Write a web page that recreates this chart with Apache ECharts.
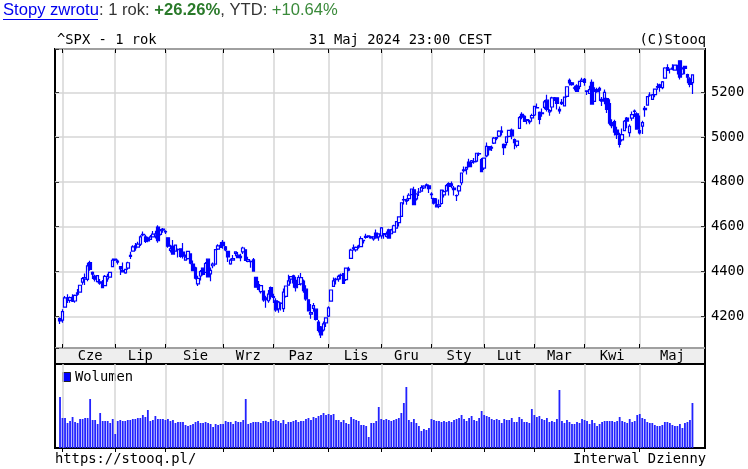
<!DOCTYPE html>
<html>
<head>
<meta charset="utf-8">
<script src="https://cdn.jsdelivr.net/npm/echarts@6/dist/echarts.min.js"></script>
<style>
  html, body { margin: 0; padding: 0; background: #fff; }
  #chart { width: 748px; height: 469px; }
</style>
</head>
<body>
<div id="chart"></div>
<script>
// ^SPX, dzienne swiece: [open, close, low, high]
const dMay23 = [31];
const pMay23 = [[4190.7, 4179.8, 4166.2, 4195.4]];
const vMay23 = [51];

const dJun23 = [1, 2, 5, 6, 7, 8, 9, 12, 13, 14, 15, 16, 20, 21, 22, 23, 26, 27, 28, 29, 30];
const pJun23 = [
  [4183.0, 4221.0, 4171.6, 4232.4], [4241.0, 4282.4, 4241.0, 4290.7], [4282.0, 4273.8, 4260.2, 4299.3],
  [4271.3, 4283.9, 4261.0, 4288.3], [4285.5, 4267.5, 4264.1, 4299.2], [4268.7, 4293.9, 4261.1, 4298.0],
  [4304.9, 4298.9, 4292.2, 4322.6], [4308.3, 4338.9, 4307.4, 4340.1], [4352.6, 4369.0, 4341.3, 4375.4],
  [4366.3, 4372.6, 4340.5, 4391.8], [4365.3, 4425.8, 4357.2, 4439.2], [4440.0, 4409.6, 4403.4, 4448.5],
  [4396.1, 4388.7, 4367.2, 4400.2], [4380.0, 4365.7, 4355.4, 4386.2], [4355.4, 4381.9, 4351.6, 4382.2],
  [4354.2, 4348.3, 4341.3, 4366.6], [4344.8, 4328.8, 4327.3, 4362.1], [4337.4, 4378.4, 4337.4, 4384.4],
  [4367.5, 4376.9, 4355.0, 4390.4], [4374.9, 4396.4, 4374.9, 4398.4], [4422.4, 4450.4, 4422.4, 4458.5]
];
const vJun23 = [30, 30, 25, 27, 31, 26, 25, 29, 29, 30, 30, 49, 28, 28, 24, 35, 27, 27, 27, 25, 29];

const dJul23 = [3, 5, 6, 7, 10, 11, 12, 13, 14, 17, 18, 19, 20, 21, 24, 25, 26, 27, 28, 31];
const pJul23 = [
  [4450.5, 4455.6, 4446.8, 4456.5], [4442.0, 4446.8, 4431.0, 4454.1], [4422.6, 4411.6, 4385.1, 4422.6],
  [4404.5, 4399.0, 4397.4, 4440.4], [4394.2, 4409.5, 4389.9, 4412.6], [4415.6, 4439.3, 4408.5, 4443.6],
  [4467.7, 4472.2, 4456.5, 4488.3], [4491.5, 4510.0, 4491.5, 4517.4], [4514.6, 4505.4, 4493.3, 4527.8],
  [4508.9, 4522.8, 4505.8, 4532.9], [4521.8, 4555.0, 4514.6, 4562.3], [4563.9, 4565.7, 4557.5, 4578.4],
  [4554.4, 4534.9, 4527.6, 4564.7], [4550.2, 4536.3, 4531.3, 4555.0], [4543.4, 4554.6, 4540.3, 4563.4],
  [4555.2, 4567.5, 4555.0, 4580.6], [4558.9, 4566.8, 4547.6, 4582.5], [4598.3, 4537.4, 4528.6, 4607.1],
  [4565.8, 4582.2, 4561.2, 4590.2], [4584.8, 4589.0, 4573.1, 4594.2]
];
const vJul23 = [14, 27, 28, 27, 27, 28, 28, 29, 29, 30, 30, 33, 31, 38, 27, 28, 32, 29, 29, 29];

const dAug23 = [1, 2, 3, 4, 7, 8, 9, 10, 11, 14, 15, 16, 17, 18, 21, 22, 23, 24, 25, 28, 29, 30, 31];
const pAug23 = [
  [4578.8, 4576.7, 4567.5, 4584.6], [4550.9, 4513.4, 4505.8, 4550.9], [4494.3, 4501.9, 4485.5, 4519.8],
  [4513.9, 4478.0, 4474.6, 4540.3], [4491.6, 4518.4, 4491.2, 4519.8], [4498.0, 4499.4, 4463.2, 4503.3],
  [4501.6, 4467.7, 4461.3, 4502.4], [4487.2, 4468.8, 4457.9, 4527.4], [4450.7, 4464.1, 4448.0, 4476.2],
  [4458.1, 4489.7, 4453.4, 4490.3], [4478.9, 4437.9, 4432.2, 4478.9], [4433.8, 4404.3, 4403.6, 4449.9],
  [4416.3, 4370.4, 4364.8, 4421.2], [4344.9, 4369.7, 4335.3, 4381.8], [4380.3, 4399.8, 4360.3, 4407.5],
  [4415.3, 4387.6, 4382.8, 4418.6], [4396.4, 4436.0, 4396.4, 4443.2], [4455.2, 4376.3, 4375.6, 4458.3],
  [4389.4, 4405.7, 4356.3, 4418.5], [4426.0, 4433.3, 4414.9, 4440.8], [4432.8, 4497.6, 4431.7, 4500.1],
  [4500.3, 4514.9, 4496.0, 4521.7], [4517.0, 4507.7, 4505.9, 4532.3]
];
const vAug23 = [28, 29, 27, 28, 25, 26, 26, 26, 23, 22, 23, 24, 26, 27, 25, 25, 26, 25, 24, 21, 24, 23, 24];

const dSep23 = [1, 5, 6, 7, 8, 11, 12, 13, 14, 15, 18, 19, 20, 21, 22, 25, 26, 27, 28, 29];
const pSep23 = [
  [4530.6, 4515.8, 4501.4, 4541.3], [4510.1, 4496.8, 4490.4, 4514.3], [4490.4, 4465.5, 4442.4, 4490.4],
  [4434.6, 4451.1, 4430.5, 4457.8], [4451.3, 4457.5, 4448.5, 4473.5], [4480.9, 4487.5, 4467.9, 4490.8],
  [4473.3, 4461.9, 4459.8, 4487.1], [4462.6, 4467.4, 4446.1, 4479.4], [4487.8, 4505.1, 4478.1, 4511.0],
  [4497.1, 4450.3, 4447.2, 4497.1], [4445.4, 4453.5, 4442.1, 4466.4], [4445.4, 4444.0, 4416.6, 4449.9],
  [4452.8, 4402.2, 4401.4, 4461.0], [4374.4, 4330.0, 4329.2, 4375.7], [4341.7, 4320.1, 4316.5, 4357.4],
  [4310.6, 4337.4, 4302.7, 4338.5], [4312.9, 4273.5, 4265.0, 4313.0], [4282.6, 4274.5, 4238.6, 4292.1],
  [4269.7, 4299.7, 4261.0, 4317.3], [4328.2, 4288.1, 4274.9, 4333.2]
];
const vSep23 = [24, 27, 26, 26, 24, 27, 26, 26, 28, 49, 24, 25, 26, 26, 26, 25, 27, 27, 26, 29];

const dOct23 = [2, 3, 4, 5, 6, 9, 10, 11, 12, 13, 16, 17, 18, 19, 20, 23, 24, 25, 26, 27, 30, 31];
const pOct23 = [
  [4284.5, 4288.4, 4260.0, 4300.6], [4269.8, 4229.5, 4220.5, 4281.2], [4233.8, 4263.8, 4216.5, 4268.5],
  [4259.3, 4258.2, 4225.9, 4263.6], [4234.8, 4308.5, 4219.4, 4324.1], [4289.0, 4335.7, 4283.8, 4335.9],
  [4339.8, 4358.2, 4339.8, 4385.5], [4366.6, 4377.0, 4345.3, 4378.6], [4380.9, 4349.6, 4328.1, 4385.9],
  [4360.5, 4327.8, 4311.6, 4377.1], [4342.4, 4373.6, 4342.4, 4383.3], [4345.2, 4373.2, 4337.5, 4393.6],
  [4357.4, 4314.6, 4305.2, 4364.2], [4321.4, 4278.0, 4269.7, 4339.5], [4273.9, 4224.2, 4223.0, 4276.6],
  [4210.4, 4217.0, 4189.2, 4255.8], [4235.8, 4247.7, 4220.5, 4259.4], [4232.4, 4186.8, 4181.4, 4232.4],
  [4175.1, 4137.2, 4128.0, 4183.6], [4152.9, 4117.4, 4103.8, 4156.7], [4139.4, 4166.8, 4132.9, 4177.5],
  [4171.3, 4193.8, 4153.1, 4195.6]
];
const vOct23 = [27, 28, 27, 25, 28, 24, 26, 26, 27, 28, 26, 27, 27, 29, 30, 28, 31, 30, 32, 33, 35, 33];

const dNov23 = [1, 2, 3, 6, 7, 8, 9, 10, 13, 14, 15, 16, 17, 20, 21, 22, 24, 27, 28, 29, 30];
const pNov23 = [
  [4201.3, 4237.9, 4197.7, 4245.6], [4268.3, 4317.8, 4268.3, 4319.7], [4334.2, 4358.3, 4334.2, 4374.0],
  [4364.3, 4366.0, 4342.2, 4372.2], [4366.2, 4378.4, 4354.4, 4386.3], [4384.4, 4382.8, 4364.2, 4391.2],
  [4391.4, 4347.4, 4344.0, 4393.4], [4364.2, 4415.2, 4357.4, 4418.0], [4406.7, 4411.6, 4401.4, 4421.8],
  [4458.9, 4495.7, 4458.9, 4502.2], [4505.3, 4502.9, 4493.5, 4521.2], [4497.1, 4508.2, 4488.6, 4511.9],
  [4509.6, 4514.0, 4502.2, 4520.1], [4511.7, 4547.4, 4511.0, 4557.1], [4538.8, 4538.2, 4525.5, 4542.1],
  [4553.0, 4556.6, 4546.3, 4568.4], [4555.8, 4559.3, 4554.4, 4560.5], [4554.9, 4550.4, 4546.0, 4560.0],
  [4545.6, 4554.9, 4537.2, 4557.0], [4571.8, 4550.6, 4546.7, 4587.6], [4554.9, 4567.8, 4537.2, 4569.9]
];
const vNov23 = [34, 33, 34, 28, 28, 26, 28, 25, 24, 31, 29, 28, 27, 23, 23, 22, 11, 25, 25, 27, 41];

const dDec23 = [1, 4, 5, 6, 7, 8, 11, 12, 13, 14, 15, 18, 19, 20, 21, 22, 26, 27, 28, 29];
const pDec23 = [
  [4559.4, 4594.6, 4546.5, 4599.4], [4564.4, 4569.8, 4546.5, 4572.4], [4557.3, 4567.2, 4551.7, 4578.6],
  [4586.2, 4549.3, 4546.7, 4590.7], [4568.8, 4585.6, 4568.8, 4590.9], [4576.2, 4604.4, 4574.1, 4609.2],
  [4593.4, 4622.4, 4590.7, 4623.0], [4618.3, 4643.7, 4600.8, 4643.9], [4646.2, 4707.1, 4643.2, 4709.7],
  [4721.0, 4719.6, 4699.4, 4738.6], [4714.2, 4719.2, 4697.8, 4725.5], [4725.6, 4740.6, 4714.9, 4749.5],
  [4743.7, 4768.4, 4743.7, 4768.7], [4764.7, 4698.4, 4697.8, 4778.0], [4724.3, 4746.8, 4716.6, 4748.7],
  [4753.9, 4754.6, 4736.8, 4772.9], [4758.9, 4774.8, 4758.9, 4784.7], [4773.5, 4781.6, 4767.9, 4785.4],
  [4786.4, 4783.4, 4780.9, 4793.3], [4782.9, 4769.8, 4751.0, 4788.4]
];
const vDec23 = [29, 28, 29, 28, 27, 28, 29, 30, 35, 45, 61, 28, 26, 29, 25, 22, 17, 19, 18, 20];

const dJan24 = [2, 3, 4, 5, 8, 9, 10, 11, 12, 16, 17, 18, 19, 22, 23, 24, 25, 26, 29, 30, 31];
const pJan24 = [
  [4745.2, 4742.8, 4724.0, 4754.3], [4725.1, 4704.8, 4699.7, 4729.3], [4697.4, 4688.7, 4687.7, 4726.8],
  [4690.6, 4697.2, 4682.1, 4721.5], [4703.7, 4763.5, 4699.7, 4764.5], [4741.9, 4756.5, 4730.4, 4765.5],
  [4759.9, 4783.5, 4756.2, 4790.8], [4792.1, 4780.2, 4739.6, 4798.5], [4791.2, 4783.8, 4771.3, 4802.4],
  [4772.4, 4766.0, 4739.6, 4782.3], [4739.1, 4739.2, 4714.8, 4744.2], [4760.1, 4780.9, 4740.0, 4785.8],
  [4796.3, 4839.8, 4784.7, 4842.1], [4853.4, 4850.4, 4842.1, 4868.4], [4856.8, 4864.6, 4832.9, 4866.5],
  [4888.6, 4868.6, 4864.8, 4903.7], [4886.7, 4894.2, 4865.9, 4898.2], [4888.9, 4891.0, 4881.4, 4906.7],
  [4892.9, 4927.9, 4887.4, 4929.3], [4925.9, 4925.0, 4916.1, 4931.1], [4899.2, 4845.7, 4845.2, 4906.8]
];
const vJan24 = [29, 28, 27, 27, 26, 27, 26, 27, 26, 28, 29, 30, 33, 29, 27, 30, 32, 28, 27, 30, 37];

const dFeb24 = [1, 2, 5, 6, 7, 8, 9, 12, 13, 14, 15, 16, 20, 21, 22, 23, 26, 27, 28, 29];
const pFeb24 = [
  [4861.1, 4906.2, 4853.5, 4906.9], [4916.1, 4958.6, 4910.5, 4975.3], [4957.2, 4942.8, 4918.1, 4957.8],
  [4950.2, 4954.2, 4938.3, 4963.0], [4973.1, 4995.1, 4969.7, 4999.9], [4995.4, 4997.9, 4985.9, 5000.4],
  [5004.2, 5026.6, 4999.9, 5030.1], [5026.8, 5021.8, 5007.3, 5048.4], [4967.9, 4953.2, 4920.3, 4971.3],
  [4976.4, 5000.6, 4963.0, 5002.5], [5003.1, 5029.7, 4999.5, 5032.7], [5031.1, 5005.6, 4990.9, 5038.7],
  [4989.3, 4975.5, 4946.0, 4993.7], [4963.0, 4981.8, 4953.9, 4983.2], [5038.8, 5087.0, 5038.8, 5094.4],
  [5100.9, 5088.8, 5079.6, 5111.1], [5093.0, 5069.5, 5068.9, 5097.7], [5074.6, 5078.2, 5056.8, 5080.7],
  [5067.2, 5069.8, 5057.3, 5077.4], [5085.4, 5096.3, 5068.9, 5104.0]
];
const vFeb24 = [33, 32, 31, 29, 28, 29, 28, 25, 29, 28, 28, 30, 26, 26, 31, 29, 26, 26, 25, 39];

const dMar24 = [1, 4, 5, 6, 7, 8, 11, 12, 13, 14, 15, 18, 19, 20, 21, 22, 25, 26, 27, 28];
const pMar24 = [
  [5098.5, 5137.1, 5094.0, 5140.3], [5130.0, 5131.0, 5127.2, 5149.7], [5110.5, 5078.7, 5056.8, 5114.6],
  [5108.0, 5104.8, 5091.1, 5127.4], [5132.4, 5157.4, 5124.7, 5165.6], [5164.5, 5123.7, 5114.5, 5189.3],
  [5111.9, 5117.9, 5094.9, 5124.7], [5134.3, 5175.3, 5114.2, 5179.9], [5173.5, 5165.3, 5161.2, 5179.1],
  [5175.1, 5150.5, 5123.3, 5176.9], [5123.3, 5117.1, 5104.4, 5136.9], [5154.8, 5149.4, 5143.6, 5170.0],
  [5139.1, 5178.5, 5138.7, 5180.3], [5181.7, 5224.6, 5176.9, 5226.2], [5253.4, 5241.5, 5229.6, 5261.1],
  [5242.5, 5234.2, 5228.8, 5246.1], [5219.5, 5218.2, 5207.4, 5229.1], [5228.9, 5203.6, 5203.4, 5235.2],
  [5226.3, 5248.5, 5213.4, 5249.3], [5248.0, 5254.4, 5245.6, 5264.9]
];
const vMar24 = [33, 31, 32, 29, 28, 30, 26, 27, 26, 29, 58, 27, 25, 28, 26, 24, 24, 26, 25, 29];

const dApr24 = [1, 2, 3, 4, 5, 8, 9, 10, 11, 12, 15, 16, 17, 18, 19, 22, 23, 24, 25, 26, 29, 30];
const pApr24 = [
  [5257.9, 5243.8, 5229.2, 5263.8], [5204.3, 5205.8, 5187.3, 5208.3], [5194.4, 5211.5, 5194.4, 5228.8],
  [5244.1, 5147.2, 5146.1, 5256.6], [5158.9, 5204.3, 5157.2, 5222.2], [5211.4, 5202.4, 5197.4, 5219.6],
  [5217.0, 5209.9, 5160.9, 5224.8], [5167.9, 5160.6, 5138.7, 5178.4], [5172.9, 5199.1, 5146.5, 5211.8],
  [5171.5, 5123.4, 5107.9, 5175.0], [5149.7, 5061.8, 5052.5, 5168.4], [5064.6, 5051.4, 5039.7, 5079.8],
  [5068.9, 5022.2, 5007.3, 5077.9], [5031.5, 5011.1, 4992.0, 5046.5], [5005.4, 4967.2, 4953.6, 5019.0],
  [4987.3, 5010.6, 4980.1, 5038.8], [5028.9, 5070.6, 5027.9, 5076.7], [5084.9, 5071.6, 5039.0, 5089.5],
  [5019.9, 5048.4, 5002.0, 5057.8], [5084.7, 5100.0, 5073.1, 5114.6], [5114.1, 5116.2, 5090.0, 5123.5],
  [5103.8, 5035.7, 5035.3, 5110.8]
];
const vApr24 = [28, 27, 24, 28, 25, 22, 24, 26, 27, 27, 27, 27, 26, 27, 31, 27, 26, 25, 29, 26, 27, 33];

const dMay24 = [1, 2, 3, 6, 7, 8, 9, 10, 13, 14, 15, 16, 17, 20, 21, 22, 23, 24, 28, 29, 30, 31];
const pMay24 = [
  [5029.0, 5018.4, 5011.6, 5096.1], [5049.3, 5064.2, 5013.5, 5073.1], [5122.8, 5127.8, 5091.2, 5139.1],
  [5142.4, 5180.7, 5142.4, 5181.0], [5187.2, 5187.7, 5180.0, 5200.2], [5168.0, 5187.7, 5168.0, 5191.9],
  [5189.0, 5214.1, 5178.0, 5215.0], [5225.5, 5222.7, 5211.2, 5239.7], [5233.1, 5221.4, 5202.3, 5237.7],
  [5221.1, 5246.7, 5213.3, 5250.4], [5263.3, 5308.2, 5263.0, 5311.8], [5310.1, 5297.1, 5296.2, 5325.5],
  [5303.1, 5303.3, 5284.0, 5305.4], [5305.4, 5308.1, 5298.0, 5325.3], [5298.7, 5321.4, 5297.9, 5324.3],
  [5319.3, 5307.0, 5279.0, 5323.2], [5340.3, 5267.8, 5257.2, 5341.9], [5281.5, 5304.7, 5278.4, 5311.7],
  [5315.9, 5306.0, 5280.9, 5315.9], [5278.7, 5267.0, 5240.2, 5282.3], [5259.8, 5235.5, 5222.1, 5267.3],
  [5243.2, 5277.5, 5191.7, 5280.3]
];
const vMay24 = [34, 30, 29, 26, 25, 25, 23, 22, 22, 23, 26, 26, 25, 23, 22, 22, 24, 20, 25, 26, 28, 45];

const months = [
  ['2023-05', '',    dMay23, pMay23, vMay23],
  ['2023-06', 'Cze', dJun23, pJun23, vJun23],
  ['2023-07', 'Lip', dJul23, pJul23, vJul23],
  ['2023-08', 'Sie', dAug23, pAug23, vAug23],
  ['2023-09', 'Wrz', dSep23, pSep23, vSep23],
  ['2023-10', 'Paz', dOct23, pOct23, vOct23],
  ['2023-11', 'Lis', dNov23, pNov23, vNov23],
  ['2023-12', 'Gru', dDec23, pDec23, vDec23],
  ['2024-01', 'Sty', dJan24, pJan24, vJan24],
  ['2024-02', 'Lut', dFeb24, pFeb24, vFeb24],
  ['2024-03', 'Mar', dMar24, pMar24, vMar24],
  ['2024-04', 'Kwi', dApr24, pApr24, vApr24],
  ['2024-05', 'Maj', dMay24, pMay24, vMay24]
];

// os kategorii: 2 puste sloty z przodu, 5 z tylu
const padStart = 2, padEnd = 5;
const cats = [], candles = [], vols = [];
const starts = [];
for (let i = 0; i < padStart; i++) { cats.push('s' + i); candles.push('-'); vols.push('-'); }
months.forEach(m => {
  if (m[1]) starts.push(cats.length);
  m[2].forEach((d, i) => {
    cats.push(m[0] + '-' + String(d).padStart(2, '0'));
    candles.push(m[3][i]);
    vols.push(m[4][i]);
  });
});
for (let i = 0; i < padEnd; i++) { cats.push('e' + i); candles.push('-'); vols.push('-'); }

const isStart = {};
starts.forEach(s => { isStart[s] = true; });
const labelAt = {};
const named = months.filter(m => m[1]);
starts.forEach((s, i) => {
  const next = i + 1 < starts.length ? starts[i + 1] : cats.length - 1;
  labelAt[Math.round((s + next) / 2)] = named[i][1];
});

const mono = 'DejaVu Sans Mono';
const FS = 13.8;
const gridColor = '#d6d6d6';
const blue = '#0000ff';

const chart = echarts.init(document.getElementById('chart'), null, { renderer: 'canvas' });

const option = {
  animation: false,
  backgroundColor: '#fff',
  grid: [
    { left: 55, top: 49, width: 650, height: 299, show: true, borderColor: '#000', borderWidth: 2 },
    { left: 55, top: 348, width: 650, height: 16, show: true, backgroundColor: '#eeeeee', borderColor: '#000', borderWidth: 2 },
    { left: 55, top: 364, width: 650, height: 84, show: true, borderColor: '#000', borderWidth: 2 }
  ],
  xAxis: [
    {
      type: 'category', gridIndex: 0, data: cats, boundaryGap: false, position: 'bottom',
      axisLine: { show: false },
      axisTick: { show: true, inside: true, length: 4, interval: i => !!isStart[i], lineStyle: { color: '#000' } },
      axisLabel: { show: false },
      splitLine: { show: true, interval: i => !!isStart[i], lineStyle: { color: gridColor, width: 1.5 } }
    },
    {
      type: 'category', gridIndex: 0, data: cats, boundaryGap: false, position: 'top',
      axisLine: { show: false },
      axisTick: { show: true, inside: true, length: 4, interval: i => !!isStart[i], lineStyle: { color: '#000' } },
      axisLabel: { show: false },
      splitLine: { show: false }
    },
    {
      type: 'category', gridIndex: 1, data: cats, boundaryGap: false, position: 'bottom',
      axisLine: { show: false },
      axisTick: { show: false },
      axisLabel: {
        show: true, inside: true, margin: 1,
        interval: i => labelAt[i] !== undefined,
        formatter: (v, i) => labelAt[i] || '',
        fontFamily: mono, fontSize: FS, color: '#000'
      },
      splitLine: { show: false }
    },
    {
      type: 'category', gridIndex: 2, data: cats, boundaryGap: false, position: 'top',
      axisLine: { show: false },
      axisTick: { show: true, inside: true, length: 4, interval: i => !!isStart[i], lineStyle: { color: '#000' } },
      axisLabel: { show: false },
      splitLine: { show: true, interval: i => !!isStart[i], lineStyle: { color: gridColor, width: 1.5 } }
    }
  ],
  yAxis: [
    {
      type: 'value', gridIndex: 0, position: 'right', scale: true,
      min: 4059, max: 5393, splitNumber: 7, minInterval: 200, maxInterval: 200,
      axisLine: { show: false },
      axisTick: { show: true, inside: true, length: 4, lineStyle: { color: '#333' } },
      axisLabel: {
        show: true, margin: 6, showMinLabel: false, showMaxLabel: false,
        formatter: v => String(v), fontFamily: mono, fontSize: FS, color: '#000'
      },
      splitLine: { show: true, lineStyle: { color: gridColor, width: 1.5 } }
    },
    {
      type: 'value', gridIndex: 0, position: 'left', scale: true,
      min: 4059, max: 5393, splitNumber: 7, minInterval: 200, maxInterval: 200,
      axisLine: { show: false },
      axisTick: { show: true, inside: true, length: 4, lineStyle: { color: '#333' } },
      axisLabel: { show: false },
      splitLine: { show: false }
    },
    {
      type: 'value', gridIndex: 1, min: 0, max: 1, show: false
    },
    {
      type: 'value', gridIndex: 2, min: 0, max: 84,
      axisLine: { show: false }, axisTick: { show: false }, axisLabel: { show: false },
      splitLine: { show: false }
    }
  ],
  series: [
    {
      type: 'candlestick', xAxisIndex: 0, yAxisIndex: 0,
      data: candles, barWidth: 3,
      itemStyle: {
        color: '#ffffff', color0: blue,
        borderColor: blue, borderColor0: blue, borderColorDoji: blue, borderWidth: 1.2
      }
    },
    {
      type: 'bar', xAxisIndex: 3, yAxisIndex: 3,
      data: vols, barWidth: 1.8,
      itemStyle: { color: '#2222ff' }
    }
  ],
  graphic: [
    {
      type: 'text', left: 3, top: 2,
      style: {
        text: '{a|Stopy zwrotu}{b|: 1 rok: }{c|+26.26%}{b|, YTD: }{d|+10.64%}',
        rich: {
          a: { fontFamily: 'Liberation Sans', fontSize: 16.6, fill: '#0000ee' },
          b: { fontFamily: 'Liberation Sans', fontSize: 16.6, fill: '#333333' },
          c: { fontFamily: 'Liberation Sans', fontSize: 16.6, fill: '#2a7a2a', fontWeight: 'bold' },
          d: { fontFamily: 'Liberation Sans', fontSize: 16.6, fill: '#3a8a3a' }
        }
      }
    },
    { type: 'line', shape: { x1: 3, y1: 19.5, x2: 98, y2: 19.5 }, style: { stroke: '#0000ee', lineWidth: 1 } },
    { type: 'text', x: 57, y: 40, style: { text: '^SPX - 1 rok', font: FS + 'px "' + mono + '"', fill: '#000', textVerticalAlign: 'middle' } },
    { type: 'text', x: 309, y: 40, style: { text: '31 Maj 2024 23:00 CEST', font: FS + 'px "' + mono + '"', fill: '#000', textVerticalAlign: 'middle' } },
    { type: 'text', x: 706, y: 40, style: { text: '(C)Stooq', font: FS + 'px "' + mono + '"', fill: '#000', textAlign: 'right', textVerticalAlign: 'middle' } },
    { type: 'rect', shape: { x: 62.5, y: 372.5, width: 8, height: 9 }, style: { fill: blue, stroke: '#222', lineWidth: 1 } },
    { type: 'text', x: 75, y: 377, style: { text: 'Wolumen', font: FS + 'px "' + mono + '"', fill: '#000', textVerticalAlign: 'middle' } },
    { type: 'text', x: 55, y: 459, style: { text: 'https://stooq.pl/', font: FS + 'px "' + mono + '"', fill: '#000', textVerticalAlign: 'middle' } },
    { type: 'text', x: 706, y: 459, style: { text: 'Interwal Dzienny', font: FS + 'px "' + mono + '"', fill: '#000', textAlign: 'right', textVerticalAlign: 'middle' } }
  ]
};

chart.setOption(option);
</script>
</body>
</html>
